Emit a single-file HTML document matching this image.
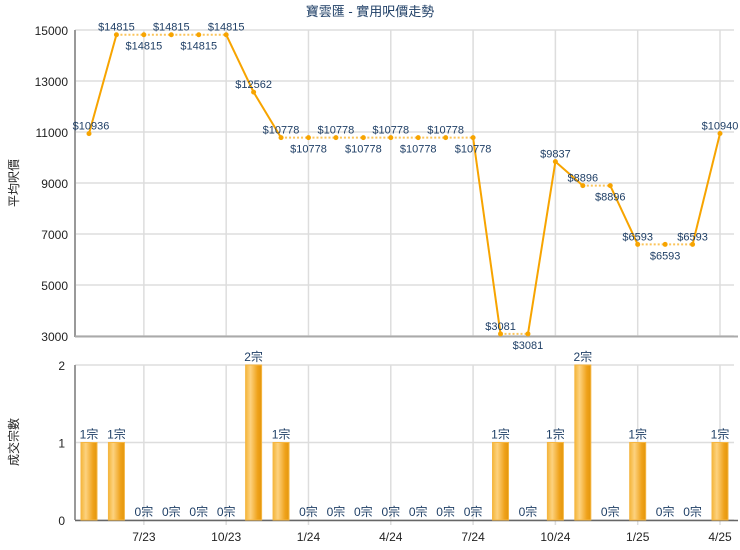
<!DOCTYPE html>
<html><head><meta charset="utf-8"><style>
body{margin:0;background:#fff;}
svg{display:block;font-family:"Liberation Sans","Noto Sans CJK TC",sans-serif;}
</style></head><body>
<svg id="c" width="740" height="550">
<defs>
<linearGradient id="bg" x1="0" x2="1" y1="0" y2="0">
<stop offset="0" stop-color="#f4b63a"/><stop offset="0.3" stop-color="#fdd27f"/><stop offset="0.75" stop-color="#efa21b"/><stop offset="1" stop-color="#e3960c"/>
</linearGradient>
</defs>
<text x="370" y="16" text-anchor="middle" font-size="13" fill="#1f3f66">寶雲匯 - 實用呎價走勢</text>
<text transform="translate(18,183) rotate(-90)" text-anchor="middle" font-size="12" fill="#222">平均呎價</text>
<text transform="translate(18,442) rotate(-90)" text-anchor="middle" font-size="12" fill="#222">成交宗數</text>
<g id="grid"></g><g id="bars"></g><g id="line"></g><g id="labels"></g>
</svg>
<script>
const months=['5/23','6/23','7/23','8/23','9/23','10/23','11/23','12/23','1/24','2/24','3/24','4/24','5/24','6/24','7/24','8/24','9/24','10/24','11/24','12/24','1/25','2/25','3/25','4/25'];
const prices=[10936,14815,14815,14815,14815,14815,12562,10778,10778,10778,10778,10778,10778,10778,10778,3081,3081,9837,8896,8896,6593,6593,6593,10940];
const counts=[1,1,0,0,0,0,2,1,0,0,0,0,0,0,0,1,0,1,2,0,1,0,0,1];
const priceTicks=[3000,5000,7000,9000,11000,13000,15000];
const countTicks=[0,1,2];
const tickMonths=['7/23','10/23','1/24','4/24','7/24','10/24','1/25','4/25'];
const labelPos=['l','a','b','a','b','a','a','a','b','a','b','a','b','a','b','a','b','a','a','b','a','b','a','a'];

const NS='http://www.w3.org/2000/svg';
const L=75,R=734;
const x=i=>89+i*(720-89)/(months.length-1);
const yP=v=>336-(v-3000)*(336-30)/12000;
const yC=v=>520-v*(520-365)/2;
function mk(t,a,p){const e=document.createElementNS(NS,t);for(const k in a)e.setAttribute(k,a[k]);document.getElementById(p).appendChild(e);return e;}
// grid
priceTicks.forEach(t=>{
 const g=mk('line',{x1:L,x2:R,y1:yP(t),y2:yP(t),stroke:'#ddd','stroke-width':1.5},'grid');
 
 
 const tx=mk('text',{x:L-7,y:yP(t)+5,'text-anchor':'end','font-size':12,fill:'#222'},'grid');tx.textContent=t;
 
 
});
countTicks.forEach(t=>{
 const g=mk('line',{x1:L,x2:R,y1:yC(t),y2:yC(t),stroke:'#ddd','stroke-width':1.5},'grid');
 
 
 const tx=mk('text',{x:L-10,y:yC(t)+5,'text-anchor':'end','font-size':12,fill:'#222'},'grid');tx.textContent=t;
 
 
});
tickMonths.forEach(m=>{
 const i=months.indexOf(m);
 mk('line',{x1:x(i),x2:x(i),y1:30,y2:336,stroke:'#ddd','stroke-width':1.5},'grid');
 mk('line',{x1:x(i),x2:x(i),y1:365,y2:525,stroke:'#ddd','stroke-width':1.5},'grid');
 const tx=mk('text',{x:x(i),y:541,'text-anchor':'middle','font-size':12,fill:'#222'},'grid');tx.textContent=m;
 
 
});
mk('line',{x1:L,x2:L,y1:30,y2:337,stroke:'#999','stroke-width':2},'grid');
mk('line',{x1:L,x2:R+4,y1:336.5,y2:336.5,stroke:'#aaa','stroke-width':2},'grid');
mk('line',{x1:L,x2:L,y1:365,y2:520,stroke:'#999','stroke-width':2},'grid');
mk('line',{x1:L,x2:R+4,y1:520.5,y2:520.5,stroke:'#666','stroke-width':1.5},'grid');
// bars
counts.forEach((c,i)=>{
 if(c>0){const b=mk('rect',{x:x(i)-8,y:yC(c),width:16,height:yC(0)-yC(c),fill:'url(#bg)',stroke:'#f5b642','stroke-width':1},'bars');
 
 }
 const t=mk('text',{x:x(i),y:yC(c)-4,'text-anchor':'middle','font-size':12,fill:'#1f3f66'},'labels');t.textContent=c+'宗';
 
 
});
// line
for(let i=0;i<prices.length-1;i++){
 const solid=counts[i+1]>0;
 const s=mk('line',{x1:x(i),y1:yP(prices[i]),x2:x(i+1),y2:yP(prices[i+1]),stroke:solid?'#f7a400':'#fbc45a','stroke-width':solid?2:2,'stroke-dasharray':solid?'':'2,2'},'line');
 
 
}
prices.forEach((v,i)=>{
 const p=mk('circle',{cx:x(i),cy:yP(v),r:2.5,fill:'#f7a400'},'line');
 
 
 const pos=labelPos[i];
 const ty=pos==='b'?yP(v)+15:yP(v)-4;
 const tx=pos==='l'?x(i)+2:x(i);
 const t=mk('text',{x:tx,y:ty,'text-anchor':'middle','font-size':11,fill:'#1f3f66'},'labels');t.textContent='$'+v;
 
 
});
</script>
</body></html>
